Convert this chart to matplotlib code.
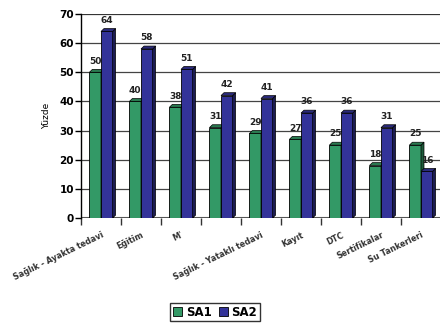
import matplotlib
matplotlib.use("Agg")
import matplotlib.pyplot as plt
from matplotlib.patches import Polygon, Patch, Rectangle
import numpy as np

categories = ["Sağlık - Ayakta tedavi", "Eğitim", "M'", "", "Sağlık - Yataklı tedavi",
              "Kayıt", "DTC", "Sertifikalar", "Su Tankerleri"]
sa1 = [50, 40, 38, 31, 29, 27, 25, 18, 25]
sa2 = [64, 58, 51, 42, 41, 36, 36, 31, 16]
series_names = ["SA1", "SA2"]
yticks = [0, 10, 20, 30, 40, 50, 60, 70]

colors = ["#339966", "#333399"]
side_colors = ["#1d5a3a", "#1c1c52"]
top_colors = ["#2a7a50", "#2a2a7a"]

fig = plt.figure(figsize=(4.4, 3.24), dpi=100)
ax = fig.add_axes([81/440, 106/324, 360/440, 204/324])
ax.set_xlim(-0.5, len(categories) - 0.5)
ax.set_ylim(0, 70)

for s in ["top", "right", "bottom"]:
    ax.spines[s].set_visible(False)
ax.spines["left"].set_linewidth(1.0)

# back-wall gridlines
for t in yticks[1:]:
    ax.axhline(t, color="#444444", lw=0.9, zorder=0.5)
ax.axhline(70, color="#333333", lw=1.2, zorder=0.5)
# floor
ax.axhline(0, color="#555555", lw=1.5, zorder=0.6)

x = np.arange(len(categories))
w = 0.29
dx = 0.075
dy = 1.0

for si, vals in enumerate([sa1, sa2]):
    offs = -w if si == 0 else 0.0
    for xi, v in zip(x, vals):
        x0 = xi + offs
        x1 = x0 + w
        z = 2 + si * 2
        ax.add_patch(Rectangle((x0, 0), w, v, facecolor=colors[si],
                               edgecolor="black", lw=0.6, zorder=z))
        ax.add_patch(Polygon([(x1, 0), (x1, v), (x1 + dx, v + dy), (x1 + dx, dy)],
                             closed=True, facecolor=side_colors[si],
                             edgecolor="black", lw=0.5, zorder=z))
        ax.add_patch(Polygon([(x0, v), (x0 + dx, v + dy), (x1 + dx, v + dy), (x1, v)],
                             closed=True, facecolor=top_colors[si],
                             edgecolor="black", lw=0.5, zorder=z))
        ax.text(x0 + w / 2, v + dy + 1.3, str(v), ha="center", va="bottom",
                fontsize=6.5, fontweight="bold", color="#222222", zorder=z + 1)

ax.set_yticks(yticks)
ax.set_yticklabels([str(t) for t in yticks], fontsize=7.5, fontweight="bold")
ax.tick_params(axis="y", length=4, width=1, pad=1)

ax.set_xticks(x)
ax.set_xticklabels(categories, rotation=26, ha="right", rotation_mode="anchor",
                   fontsize=5.8, fontweight="bold", color="#333333")
ax.tick_params(axis="x", length=0, pad=9)
ax.set_xticks(np.arange(len(categories) + 1) - 0.5, minor=True)
ax.tick_params(axis="x", which="minor", length=5, width=1, color="#333333")

ax.set_ylabel("Yüzde", fontsize=6.5, labelpad=6)

handles = [Patch(facecolor=colors[i], edgecolor="black", lw=0.6, label=series_names[i])
           for i in range(2)]
leg = fig.legend(handles=handles, loc="center", bbox_to_anchor=(215/440, 12/324),
                 ncol=2, prop={"weight": "bold", "size": 8.5},
                 frameon=True, fancybox=False, edgecolor="black",
                 handlelength=0.8, handleheight=0.8, handletextpad=0.3,
                 columnspacing=0.6, borderpad=0.25)
leg.get_frame().set_linewidth(1.0)

fig.savefig("out.png", dpi=100)
